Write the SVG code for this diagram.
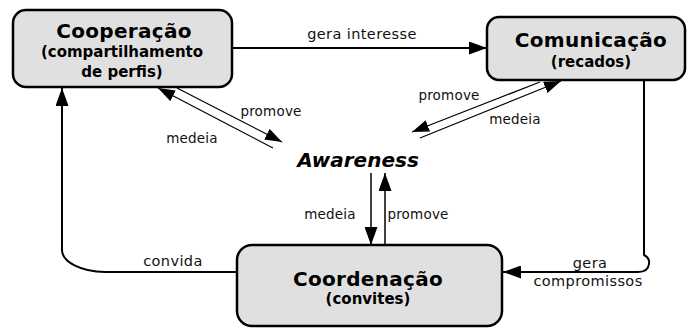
<svg xmlns="http://www.w3.org/2000/svg" width="689" height="329" viewBox="0 0 689 329">
  <style>
    .box { fill: #e0e0e0; stroke: #000; stroke-width: 2.5; }
    .title { font-family: "DejaVu Sans", Verdana, sans-serif; font-weight: bold; font-size: 20px; fill: #000; text-anchor: middle; letter-spacing: 0.3px; }
    .sub { font-family: "DejaVu Sans", Verdana, sans-serif; font-weight: bold; font-size: 15px; fill: #000; text-anchor: middle; }
    .lbl { font-family: "DejaVu Sans", Verdana, sans-serif; font-size: 14.5px; fill: #111; text-anchor: middle; letter-spacing: 0.4px; }
    .lbl-s { font-family: "DejaVu Sans", Verdana, sans-serif; font-size: 13.5px; fill: #111; text-anchor: middle; letter-spacing: 0.2px; }
    .main { fill: none; stroke: #000; stroke-width: 2; marker-end: url(#head); }
    .thin { fill: none; stroke: #000; stroke-width: 1.2; marker-end: url(#head-s); }
    .vert { fill: none; stroke: #000; stroke-width: 1.5; marker-end: url(#head); }
  </style>
  <defs>
    <marker id="head" markerUnits="userSpaceOnUse" markerWidth="18" markerHeight="13" refX="18" refY="6.5" orient="auto">
      <path d="M0,0 L18,6.5 L0,13 z" fill="#000"/>
    </marker>
    <marker id="head-s" markerUnits="userSpaceOnUse" markerWidth="17" markerHeight="12" refX="17" refY="6" orient="auto">
      <path d="M0,0 L17,6 L0,12 z" fill="#000"/>
    </marker>
  </defs>

  <!-- connectors -->
  <g id="connectors">
    <!-- Cooperação -> Comunicação -->
    <path class="main" d="M233,48 H487"/>
    <text class="lbl" x="362" y="39">gera interesse</text>

    <!-- Coordenação -> Cooperação -->
    <path class="main" d="M237,272 H105 A44,22 0 0 1 62,250 V88"/>
    <text class="lbl" x="173" y="266">convida</text>

    <!-- Comunicação -> Coordenação -->
    <path class="main" d="M644,81 V255 Q650,258 649,264 Q648,272 638,272 H503"/>
    <text class="lbl" x="590" y="268">gera</text>
    <text class="lbl" x="588" y="286">compromissos</text>

    <!-- Cooperação <-> Awareness -->
    <path class="thin" d="M177,88 L282,142"/>
    <path class="thin" d="M273,148 L158,88"/>
    <text class="lbl-s" x="271" y="116">promove</text>
    <text class="lbl-s" x="192" y="143">medeia</text>

    <!-- Comunicação <-> Awareness -->
    <path class="thin" d="M540,82 L412,132"/>
    <path class="thin" d="M420,138 L561,81"/>
    <text class="lbl-s" x="449" y="100">promove</text>
    <text class="lbl-s" x="515" y="124">medeia</text>

    <!-- Awareness <-> Coordenação -->
    <path class="vert" d="M371,173 V245"/>
    <path class="vert" d="M385,245 V173"/>
    <text class="lbl-s" x="330" y="219">medeia</text>
    <text class="lbl-s" x="418" y="219">promove</text>
  </g>

  <g id="cooperacao">
    <rect class="box" x="13" y="10" width="219" height="77" rx="13"/>
    <text class="title" x="124" y="38">Cooperação</text>
    <text class="sub" x="122" y="57">(compartilhamento</text>
    <text class="sub" x="122" y="77">de perfis)</text>
  </g>

  <g id="comunicacao">
    <rect class="box" x="487" y="17" width="198" height="63" rx="12"/>
    <text class="title" x="591" y="47">Comunicação</text>
    <text class="sub" x="591" y="67">(recados)</text>
  </g>

  <g id="coordenacao">
    <rect class="box" x="237" y="245" width="265" height="81" rx="15"/>
    <text class="title" x="368" y="286">Coordenação</text>
    <text class="sub" x="368" y="304">(convites)</text>
  </g>

  <g id="awareness">
    <text x="358" y="167" font-family="DejaVu Sans, Verdana, sans-serif" font-weight="bold" font-style="italic" font-size="20" text-anchor="middle">Awareness</text>
  </g>
</svg>
